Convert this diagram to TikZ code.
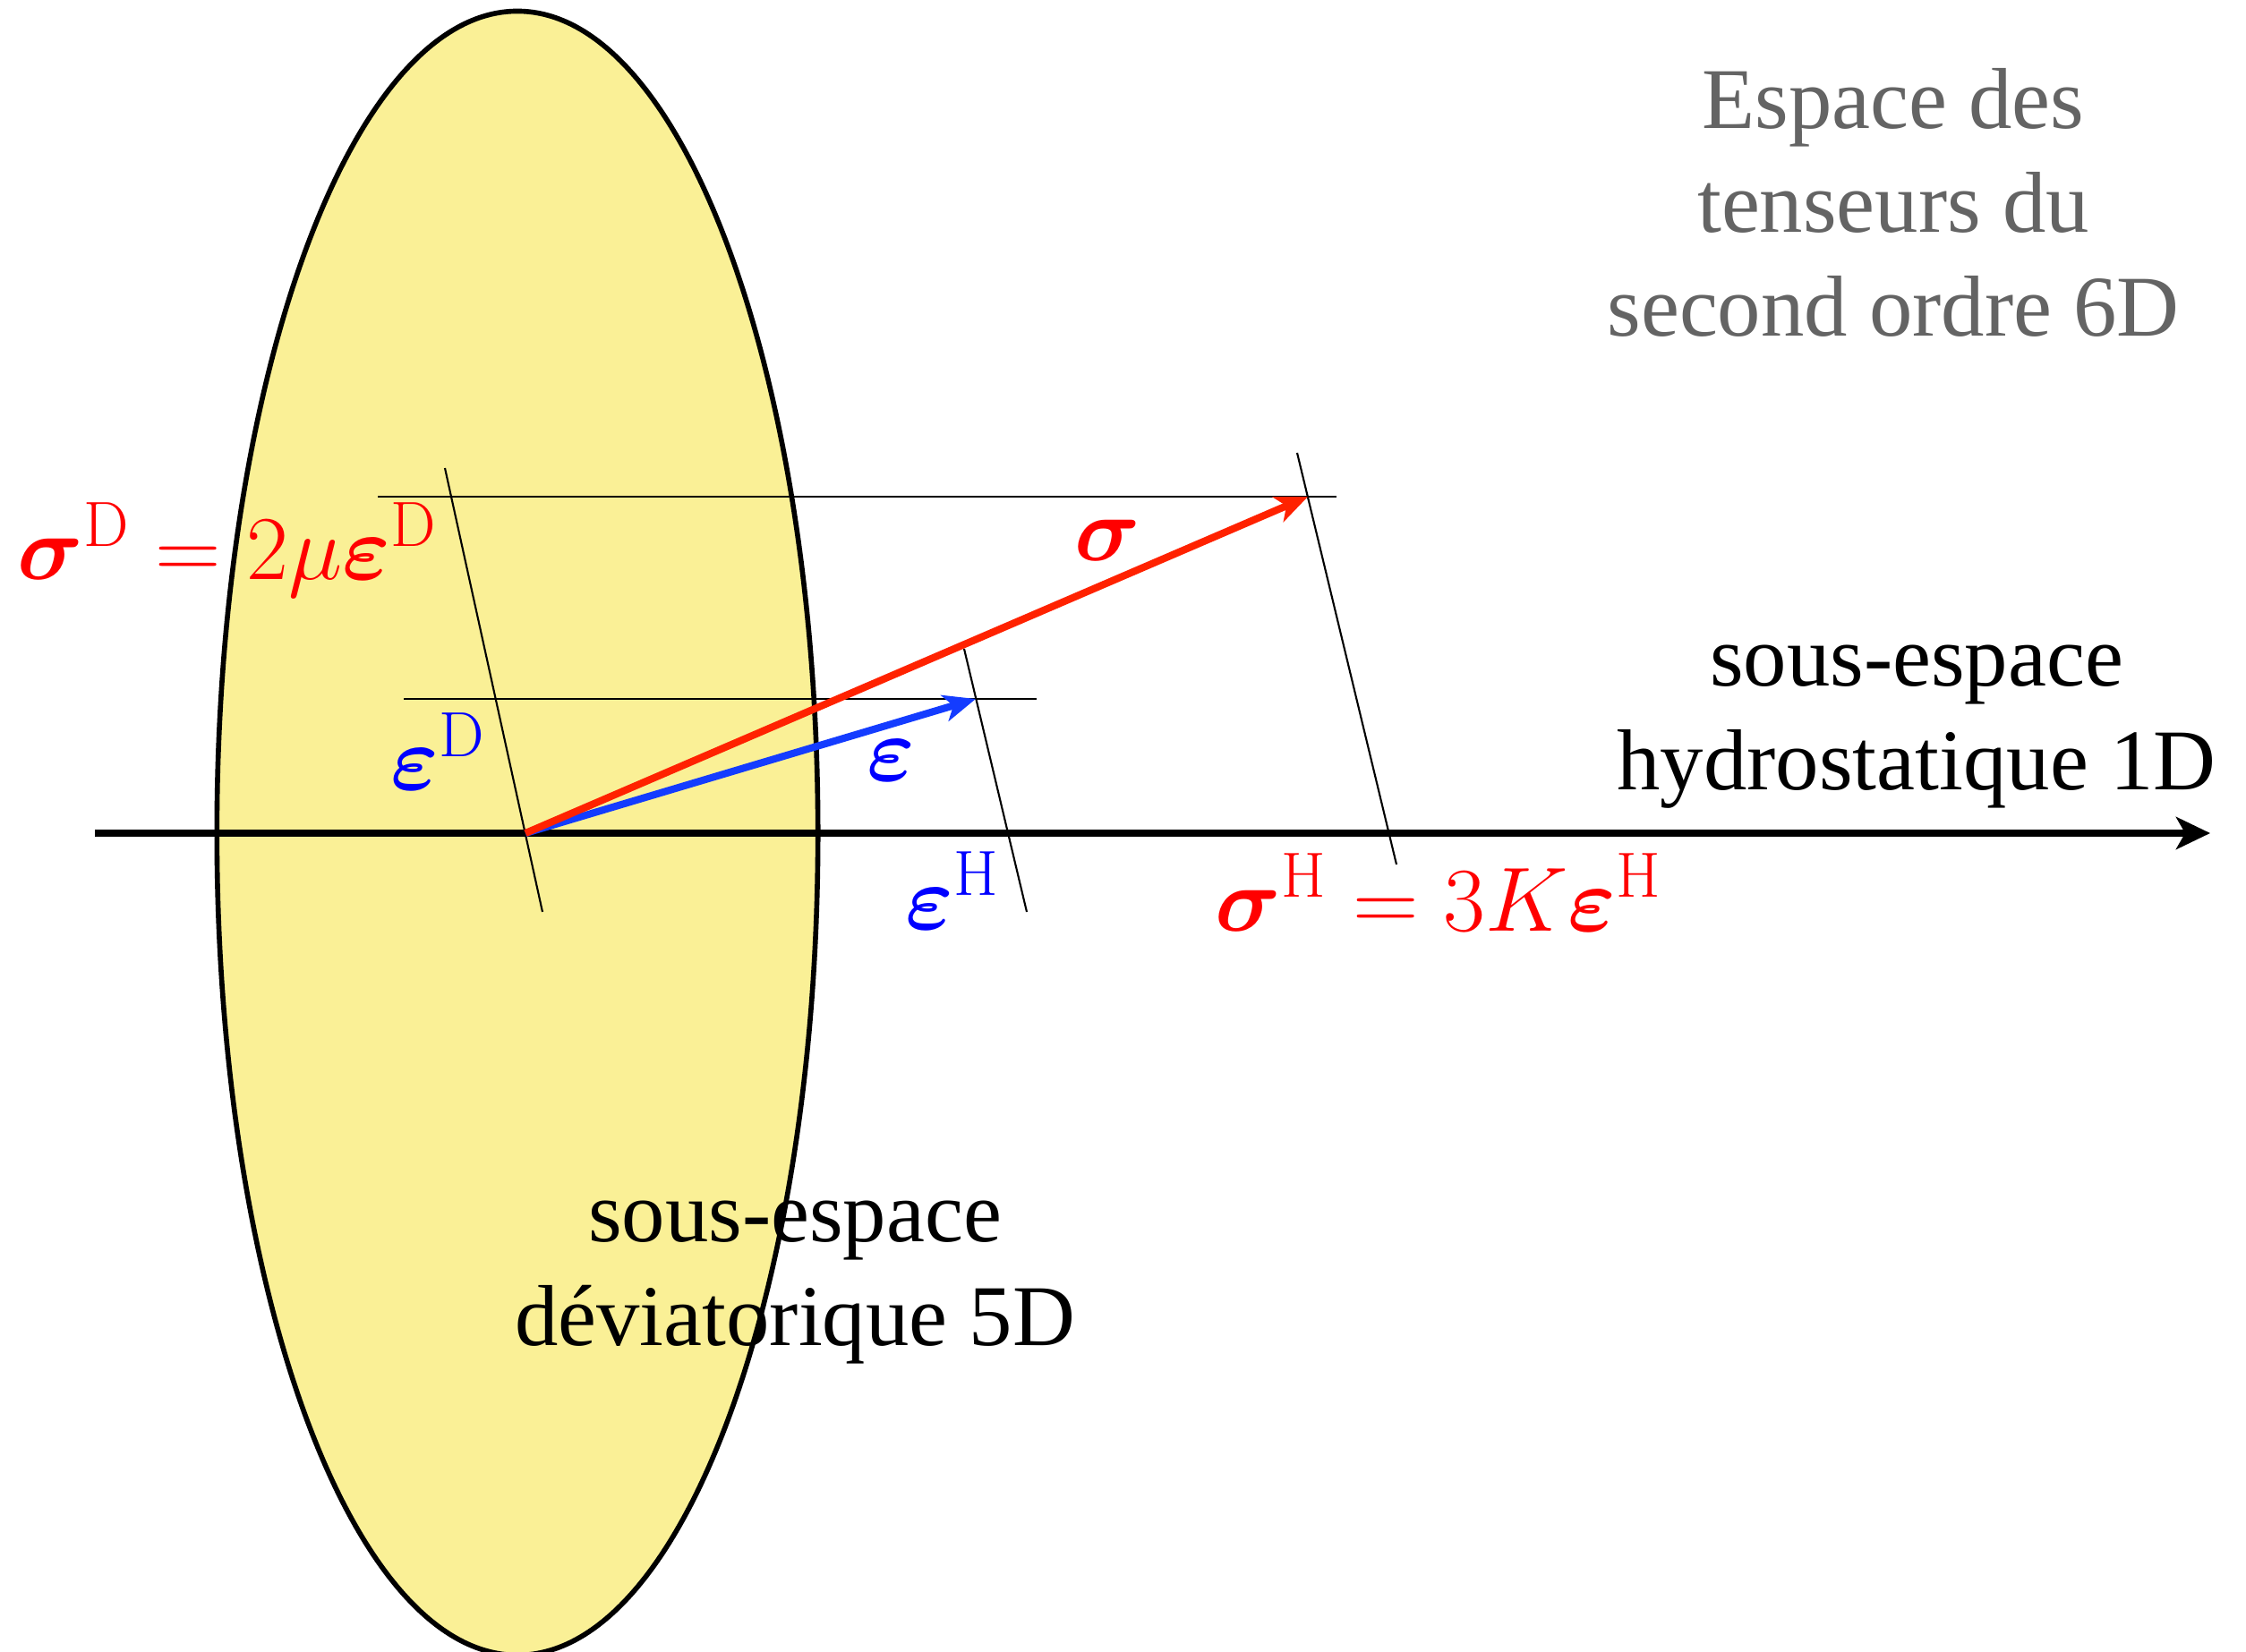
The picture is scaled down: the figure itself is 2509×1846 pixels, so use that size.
\documentclass[tikz,border=0pt]{standalone}
\usepackage{fix-cm}
\usepackage{amsmath}
\usepackage[no-math]{fontspec}
\setmainfont{Liberation Serif}
\usetikzlibrary{arrows.meta}
\definecolor{ellfill}{RGB}{250,240,150}
\definecolor{vred}{RGB}{255,34,0}
\definecolor{vblue}{RGB}{20,60,255}
\definecolor{tred}{RGB}{255,0,0}
\definecolor{tblue}{RGB}{0,0,255}
\definecolor{tgray}{RGB}{100,100,100}
\tikzset{
  axisline/.style={line width=2.3pt, -{Stealth[length=0.38cm, width=0.36cm, inset=0.1cm]}},
  thinline/.style={line width=0.6pt},
  vecred/.style={line width=2.3pt, draw=vred, -{Stealth[length=0.36cm, width=0.3cm, inset=0.1cm]}},
  vecblue/.style={line width=2.3pt, draw=vblue, -{Stealth[length=0.36cm, width=0.3cm, inset=0.1cm]}},
  txt/.style={align=center, inner sep=0pt, font=\fontsize{27.5}{33}\selectfont},
  mlab/.style={inner sep=0pt, font=\fontsize{29}{35}\selectfont},
}
\begin{document}
\begin{tikzpicture}[x=0.01cm, y=-0.01cm]
\path[fill=white, use as bounding box] (0,0) rectangle (2509,1846);
% deviatoric subspace
\draw[line width=1.6pt, fill=ellfill] (578,931) ellipse [x radius=3.355cm, y radius=9.18cm];
% points
\coordinate (O) at (587,931);
\coordinate (S) at (1461,555);
\coordinate (E) at (1090,781);
\coordinate (axL) at (106,931);
\coordinate (axR) at (2469,931);
\coordinate (OD1) at (497,523);
\coordinate (OD2) at (606,1019);
\coordinate (ED1) at (1077,725);
\coordinate (ED2) at (1147,1019);
\coordinate (SD1) at (1449,506);
\coordinate (SD2) at (1560,966);
\coordinate (SL) at (422,555);
\coordinate (SR) at (1493,555);
\coordinate (EL) at (451,781);
\coordinate (ER) at (1158,781);
% hydrostatic axis
\draw[axisline] (axL) -- (axR);
% projection lines
\draw[thinline] (SL) -- (SR);
\draw[thinline] (EL) -- (ER);
\draw[thinline] (OD1) -- (OD2);
\draw[thinline] (ED1) -- (ED2);
\draw[thinline] (SD1) -- (SD2);
% vectors
\draw[vecblue] (O) -- (E);
\draw[vecred] (O) -- (S);
% labels
\node[mlab, text=tred, anchor=base west] (sigD) at (19,648) {$\boldsymbol{\sigma}^{\mathrm{D}} = 2\mu\boldsymbol{\varepsilon}^{\mathrm{D}}$};
\node[mlab, text=tred, anchor=base west] (sig) at (1200,627) {$\boldsymbol{\sigma}$};
\node[mlab, text=tblue, anchor=base west] (epsD) at (436,883) {$\boldsymbol{\varepsilon}^{\mathrm{D}}$};
\node[mlab, text=tblue, anchor=base west] (eps) at (968,872) {$\boldsymbol{\varepsilon}$};
\node[mlab, text=tblue, anchor=base west] (epsH) at (1011,1038) {$\boldsymbol{\varepsilon}^{\mathrm{H}}$};
\node[mlab, text=tred, anchor=base west] (sigH) at (1357,1040) {$\boldsymbol{\sigma}^{\mathrm{H}} = 3K\boldsymbol{\varepsilon}^{\mathrm{H}}$};
\node[txt, text=tgray] (title) at (2115,226) {Espace des\\tenseurs du\\second ordre 6D};
\node[txt] (hydro) at (2141,812) {sous-espace\\hydrostatique 1D};
\node[txt] (dev) at (888,1433) {sous-espace\\déviatorique 5D};
\end{tikzpicture}
\end{document}
